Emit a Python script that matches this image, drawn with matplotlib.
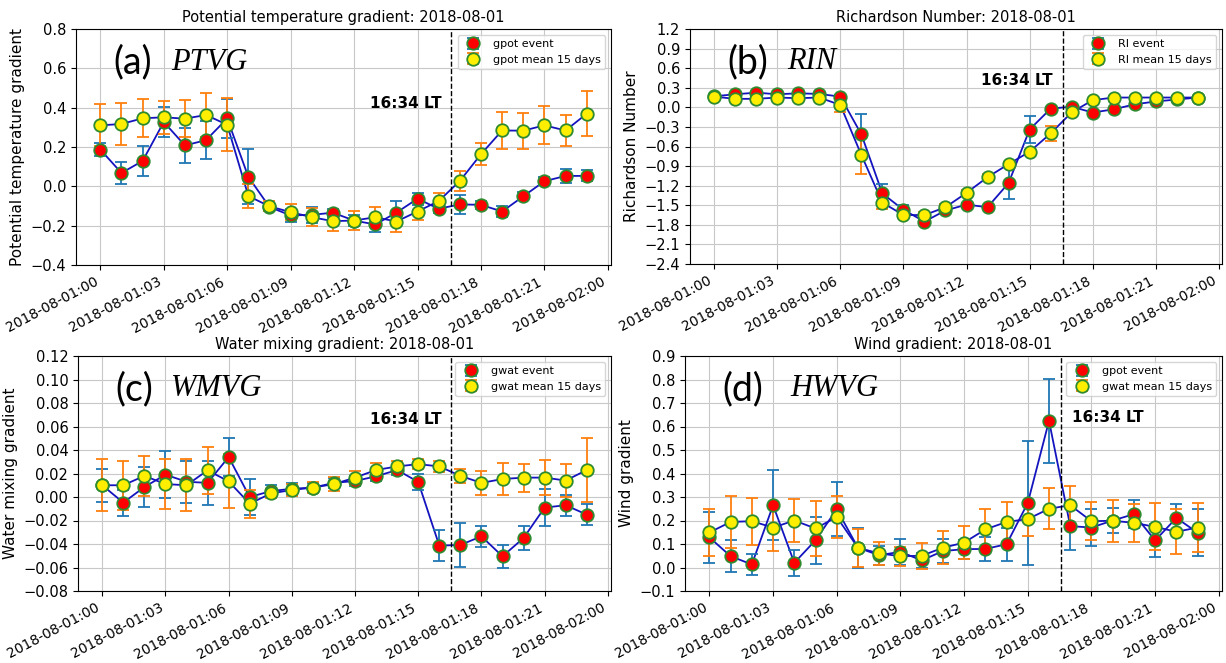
import matplotlib.pyplot as plt
import matplotlib.dates as mdates
import numpy as np
import pandas as pd

hours = pd.date_range('2018-08-01 00:00', periods=24, freq='h')
event_time = pd.Timestamp('2018-08-01 16:34')

# potential temperature gradient
gpot_ev = [0.187, 0.068, 0.129, 0.327, 0.208, 0.235, 0.345, 0.048, -0.105, -0.148, -0.145, -0.134,
           -0.174, -0.194, -0.134, -0.063, -0.114, -0.092, -0.094, -0.128, -0.051, 0.026, 0.053, 0.053]
gpot_ev_err = [0.035, 0.057, 0.077, 0.075, 0.09, 0.096, 0.1, 0.14, 0.02, 0.035, 0.04, 0.02,
               0.03, 0.04, 0.06, 0.03, 0.02, 0.05, 0.02, 0.027, 0.02, 0.02, 0.035, 0.028]
gpot_mean = [0.31, 0.317, 0.346, 0.351, 0.344, 0.363, 0.313, -0.049, -0.102, -0.131, -0.157, -0.177,
             -0.174, -0.157, -0.179, -0.128, -0.075, 0.027, 0.163, 0.284, 0.283, 0.31, 0.284, 0.369]
gpot_mean_err = [0.107, 0.107, 0.097, 0.085, 0.095, 0.113, 0.135, 0.06, 0.025, 0.04, 0.045, 0.05,
                 0.05, 0.05, 0.055, 0.045, 0.04, 0.05, 0.055, 0.095, 0.092, 0.097, 0.078, 0.115]

# Richardson number
ri_ev = [0.17, 0.2, 0.225, 0.2, 0.215, 0.205, 0.164, -0.415, -1.32, -1.57, -1.75, -1.58,
         -1.49, -1.53, -1.16, -0.34, -0.02, 0.01, -0.08, -0.03, 0.046, 0.09, 0.12, 0.15]
ri_ev_err = [0.01, 0.01, 0.01, 0.01, 0.01, 0.01, 0.02, 0.32, 0.14, 0.07, 0.04, 0.03,
             0.02, 0.02, 0.24, 0.2, 0.02, 0.02, 0.02, 0.02, 0.02, 0.02, 0.02, 0.02]
ri_mean = [0.164, 0.13, 0.13, 0.15, 0.14, 0.15, 0.036, -0.73, -1.46, -1.65, -1.65, -1.53,
           -1.31, -1.07, -0.87, -0.68, -0.4, -0.077, 0.11, 0.15, 0.15, 0.15, 0.15, 0.15]
ri_mean_err = [0.02, 0.02, 0.02, 0.02, 0.02, 0.02, 0.11, 0.29, 0.1, 0.04, 0.04, 0.05,
               0.05, 0.05, 0.03, 0.03, 0.11, 0.05, 0.02, 0.02, 0.02, 0.02, 0.02, 0.02]

# water mixing gradient
gwat_ev = [0.01, -0.0048, 0.0085, 0.019, 0.013, 0.012, 0.034, 0.0, 0.005, 0.007, 0.008, 0.012,
           0.0136, 0.0176, 0.023, 0.0128, -0.0414, -0.0408, -0.0335, -0.0505, -0.0349, -0.009, -0.007, -0.015]
gwat_ev_err = [0.014, 0.011, 0.017, 0.02, 0.018, 0.019, 0.016, 0.015, 0.005, 0.005, 0.004, 0.004,
               0.004, 0.004, 0.004, 0.007, 0.013, 0.019, 0.009, 0.01, 0.01, 0.016, 0.009, 0.009]
gwat_mean = [0.01, 0.01, 0.018, 0.011, 0.01, 0.0227, 0.0133, -0.0057, 0.003, 0.006, 0.008, 0.011,
             0.0165, 0.023, 0.026, 0.028, 0.026, 0.018, 0.012, 0.0153, 0.0165, 0.0165, 0.014, 0.023]
gwat_mean_err = [0.022, 0.021, 0.017, 0.021, 0.022, 0.02, 0.023, 0.012, 0.004, 0.005, 0.005, 0.006,
                 0.006, 0.006, 0.005, 0.004, 0.005, 0.006, 0.01, 0.014, 0.012, 0.015, 0.014, 0.027]

# wind gradient
wind_ev = [0.128, 0.048, 0.013, 0.265, 0.02, 0.116, 0.248, 0.084, 0.052, 0.067, 0.03, 0.07,
           0.078, 0.079, 0.099, 0.275, 0.624, 0.176, 0.17, 0.2, 0.227, 0.115, 0.211, 0.148]
wind_ev_err = [0.11, 0.067, 0.045, 0.15, 0.055, 0.1, 0.115, 0.085, 0.04, 0.056, 0.03, 0.05,
               0.04, 0.05, 0.07, 0.265, 0.18, 0.1, 0.08, 0.055, 0.06, 0.07, 0.06, 0.1]
wind_mean = [0.149, 0.194, 0.197, 0.17, 0.2, 0.166, 0.215, 0.084, 0.06, 0.048, 0.05, 0.084,
             0.106, 0.162, 0.194, 0.206, 0.25, 0.265, 0.197, 0.199, 0.19, 0.173, 0.152, 0.17]
wind_mean_err = [0.1, 0.11, 0.1, 0.1, 0.09, 0.117, 0.09, 0.08, 0.05, 0.04, 0.055, 0.07,
                 0.07, 0.085, 0.085, 0.07, 0.087, 0.08, 0.08, 0.09, 0.08, 0.1, 0.095, 0.105]

panels = [
    dict(ev=gpot_ev, ev_err=gpot_ev_err, mean=gpot_mean, mean_err=gpot_mean_err,
         labels=('gpot event', 'gpot mean 15 days'), title='Potential temperature gradient: 2018-08-01',
         ylabel='Potential temperature gradient', ylim=(-0.4, 0.8), yticks=np.arange(-0.4, 0.81, 0.2),
         tag='(a)', name='PTVG', name_x=0.178, lt=(-0.45, 0.42, 'right'),
         rect=(76, 29, 611, 265)),
    dict(ev=ri_ev, ev_err=ri_ev_err, mean=ri_mean, mean_err=ri_mean_err,
         labels=('RI event', 'RI mean 15 days'), title='Richardson Number: 2018-08-01',
         ylabel='Richardson Number', ylim=(-2.4, 1.2), yticks=np.arange(-2.4, 1.21, 0.3),
         tag='(b)', name='RIN', name_x=0.182, lt=(-0.45, 0.41, 'right'),
         rect=(690, 29, 1222, 264)),
    dict(ev=gwat_ev, ev_err=gwat_ev_err, mean=gwat_mean, mean_err=gwat_mean_err,
         labels=('gwat event', 'gwat mean 15 days'), title='Water mixing gradient: 2018-08-01',
         ylabel='Water mixing gradient', ylim=(-0.08, 0.12), yticks=np.arange(-0.08, 0.121, 0.02),
         tag='(c)', name='WMVG', name_x=0.174, lt=(-0.45, 0.066, 'right'),
         rect=(78, 356, 611, 591)),
    dict(ev=wind_ev, ev_err=wind_ev_err, mean=wind_mean, mean_err=wind_mean_err,
         labels=('gpot event', 'gwat mean 15 days'), title='Wind gradient: 2018-08-01',
         ylabel='Wind gradient', ylim=(-0.1, 0.9), yticks=np.arange(-0.1, 0.91, 0.1),
         tag='(d)', name='HWVG', name_x=0.196, lt=(0.5, 0.638, 'left'),
         rect=(685, 356, 1222, 591)),
]

W, H = 1226, 663
fig = plt.figure(figsize=(W / 100, H / 100), dpi=100)

line_col = '#1414bf'
for p in panels:
    l, t, r, b = p['rect']
    ax = fig.add_axes([l / W, 1 - b / H, (r - l) / W, (b - t) / H])

    # connecting lines first, markers with error bars on top
    ax.plot(hours, p['ev'], color=line_col, lw=1.3, zorder=2)
    ax.plot(hours, p['mean'], color=line_col, lw=1.3, zorder=2)
    ax.errorbar(hours, p['ev'], yerr=p['ev_err'], fmt='o', ms=9, mfc='red', mec='#2e8b2e',
                mew=1.3, ecolor='#1f77b4', elinewidth=1.3, capsize=4, zorder=3,
                label=p['labels'][0])
    ax.errorbar(hours, p['mean'], yerr=p['mean_err'], fmt='o', ms=9, mfc='#ffee00', mec='#2e8b2e',
                mew=1.3, ecolor='#ff7f0e', elinewidth=1.3, capsize=4, zorder=3,
                label=p['labels'][1])

    ax.axvline(event_time, color='k', ls='--', lw=1)
    dx, ly, ha = p['lt']
    ax.text(event_time + pd.Timedelta(hours=dx), ly, '16:34 LT', ha=ha, va='center',
            fontsize=11, fontweight='bold')

    ax.text(0.07, 0.86, p['tag'], transform=ax.transAxes, fontsize=27, family='Lato',
            va='center', ha='left')
    ax.text(p['name_x'], 0.86, p['name'], transform=ax.transAxes, fontsize=22,
            family='Liberation Serif', style='italic', va='center', ha='left')

    ax.set_ylim(*p['ylim'])
    ax.set_yticks(p['yticks'])
    ax.set_title(p['title'], fontsize=10.5, pad=5)
    ax.set_ylabel(p['ylabel'], fontsize=11)
    ax.xaxis.set_major_locator(mdates.HourLocator(byhour=range(0, 24, 3)))
    ax.xaxis.set_major_formatter(mdates.DateFormatter('%Y-%m-%d:%H'))
    ax.tick_params(axis='y', labelsize=10.5)
    ax.tick_params(axis='x', labelsize=10)
    plt.setp(ax.get_xticklabels(), rotation=28, ha='right')
    ax.grid(True, color='#c8c8c8')
    ax.set_axisbelow(True)
    ax.legend(loc='upper right', fontsize=8)

fig.savefig('out.png', dpi=100)
